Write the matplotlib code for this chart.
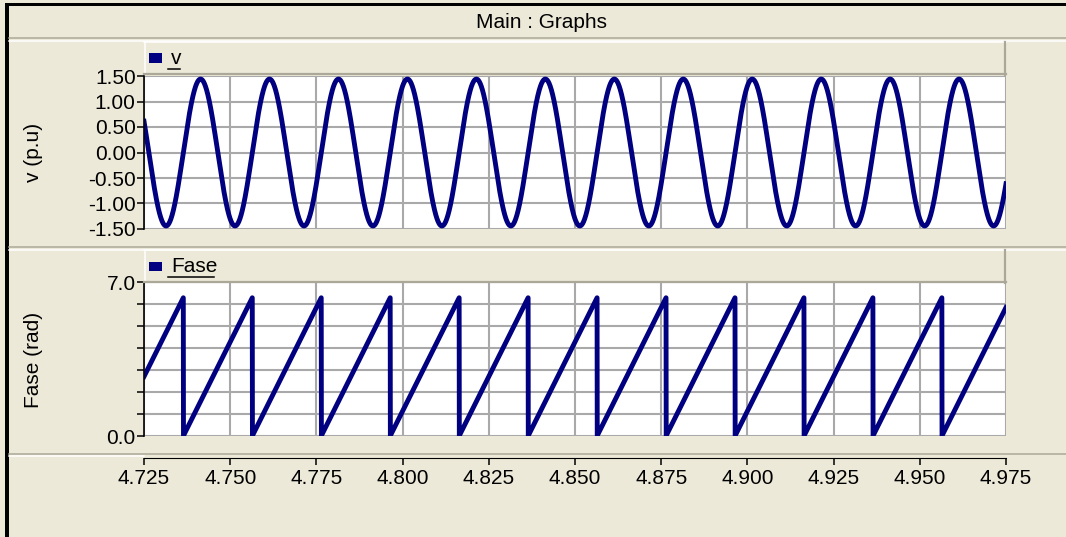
import numpy as np
import matplotlib
matplotlib.use("Agg")
import matplotlib.pyplot as plt
from matplotlib.patches import Rectangle
from matplotlib.lines import Line2D

plt.rcParams['font.family'] = ['Liberation Sans', 'DejaVu Sans']

# valores
t_ini, t_fin = 4.725, 4.975
f_red = 50.0                 # Hz (periodo 0.02 s)
v_amp = 1.44                 # p.u
fase_reset = [4.7364, 4.7564, 4.7764, 4.7964, 4.8164, 4.8364,
              4.8564, 4.8764, 4.8964, 4.9164, 4.9364, 4.9564]
x_ticks = [4.725, 4.750, 4.775, 4.800, 4.825, 4.850, 4.875, 4.900, 4.925, 4.950, 4.975]
v_ticks = [-1.50, -1.00, -0.50, 0.00, 0.50, 1.00, 1.50]
fase_ticks = [0.0, 7.0]
fase_minor = [1, 2, 3, 4, 5, 6]

t = np.arange(t_ini, t_fin + 1e-6, 0.00005)
fase = np.mod(2 * np.pi * f_red * (t - fase_reset[0]), 2 * np.pi)
v = v_amp * np.sin(fase)

W, H = 1066, 537
beige = '#ECE9D8'
gris = '#ACA899'
grid_c = '#A9A9A9'
azul = '#000080'
fs = 15

fig = plt.figure(figsize=(W / 100, H / 100), dpi=100, facecolor=beige)

def fx(x):
    return x / W

def fy(y):
    return 1 - y / H

def hline(y, x0, x1, c, lw=1.1):
    fig.add_artist(Line2D([fx(x0), fx(x1)], [fy(y), fy(y)], color=c, lw=lw))

def vline(x, y0, y1, c, lw=1.1):
    fig.add_artist(Line2D([fx(x), fx(x)], [fy(y0), fy(y1)], color=c, lw=lw))

# borde negro
fig.add_artist(Rectangle((fx(5), 0), 4 / W, fy(3), color='black', lw=0))
fig.add_artist(Rectangle((fx(5), fy(6)), 1 - fx(5), 3 / H, color='black', lw=0))

# barra de titulo y separadores
fig.text(fx(541), fy(22), 'Main : Graphs', ha='center', va='center', fontsize=fs)
hline(38, 9, W, gris)
hline(40.5, 9, W, 'white')
hline(247, 9, W, gris)
hline(249.5, 9, W, 'white')
hline(454, 9, W, gris)
hline(456, 9, 144, 'white')

# cabeceras con leyenda
for (y0, y1, nombre, x_ul) in [(42, 74, 'v', 180), (250, 282, 'Fase', 214)]:
    fig.add_artist(Rectangle((fx(144), fy(y1)), 862 / W, (y1 - y0) / H,
                             facecolor=beige, lw=0))
    hline(y0, 144, 1006, 'white')
    vline(144.5, y0, y1, 'white')
    vline(1005, y0, y1 + 1, gris, lw=1.6)
    hline(y1, 144, 1006, gris, lw=1.6)
    ym = (y0 + y1) / 2
    fig.add_artist(Rectangle((fx(149), fy(ym + 4.5)), 13 / W, 9 / H, color=azul, lw=0))
    fig.text(fx(171), fy(ym + 1), nombre, ha='left', va='center', fontsize=fs)
    hline(ym + 11, 168, x_ul, 'black', lw=1.1)

# grafico superior: v
ax1 = fig.add_axes([fx(144), fy(229), 862 / W, 153 / H])
ax1.plot(t, v, color=azul, lw=3.5, solid_joinstyle='round')
ax1.set_xlim(t_ini, t_fin)
ax1.set_ylim(-1.5, 1.5)
ax1.set_yticks(v_ticks)
ax1.set_yticklabels(['%.2f' % k for k in v_ticks])
ax1.set_xticks(x_ticks)
ax1.tick_params(axis='x', length=0, labelbottom=False)
ax1.set_ylabel('v (p.u)', fontsize=fs)

# grafico inferior: Fase
ax2 = fig.add_axes([fx(144), fy(436), 862 / W, 154 / H])
ax2.plot(t, fase, color=azul, lw=3.5, solid_joinstyle='round')
ax2.set_xlim(t_ini, t_fin)
ax2.set_ylim(0, 7)
ax2.set_yticks(fase_ticks)
ax2.set_yticklabels(['%.1f' % k for k in fase_ticks])
ax2.set_yticks(fase_minor, minor=True)
ax2.set_xticks(x_ticks)
ax2.set_xticklabels(['%.3f' % k for k in x_ticks])
ax2.set_ylabel('Fase (rad)', fontsize=fs)
ax2.spines['bottom'].set_position(('outward', 15.5))
ax2.tick_params(axis='x', direction='out', length=5, width=1.1, labelsize=fs, pad=3)

for ax in (ax1, ax2):
    ax.set_facecolor('white')
    for s in ('top', 'right'):
        ax.spines[s].set_visible(False)
    ax.spines['left'].set_linewidth(1.2)
    ax.tick_params(axis='y', which='both', direction='out', length=5, width=1.1,
                   labelsize=fs, pad=1)
    ax.grid(True, which='both', color=grid_c, lw=1.5)
    ax.set_axisbelow(True)
ax1.spines['bottom'].set_visible(False)

ax1.yaxis.set_label_coords(fx(43), fy(152), transform=fig.transFigure)
ax2.yaxis.set_label_coords(fx(43), fy(360), transform=fig.transFigure)

fig.savefig('out.png', dpi=100, facecolor=beige)
